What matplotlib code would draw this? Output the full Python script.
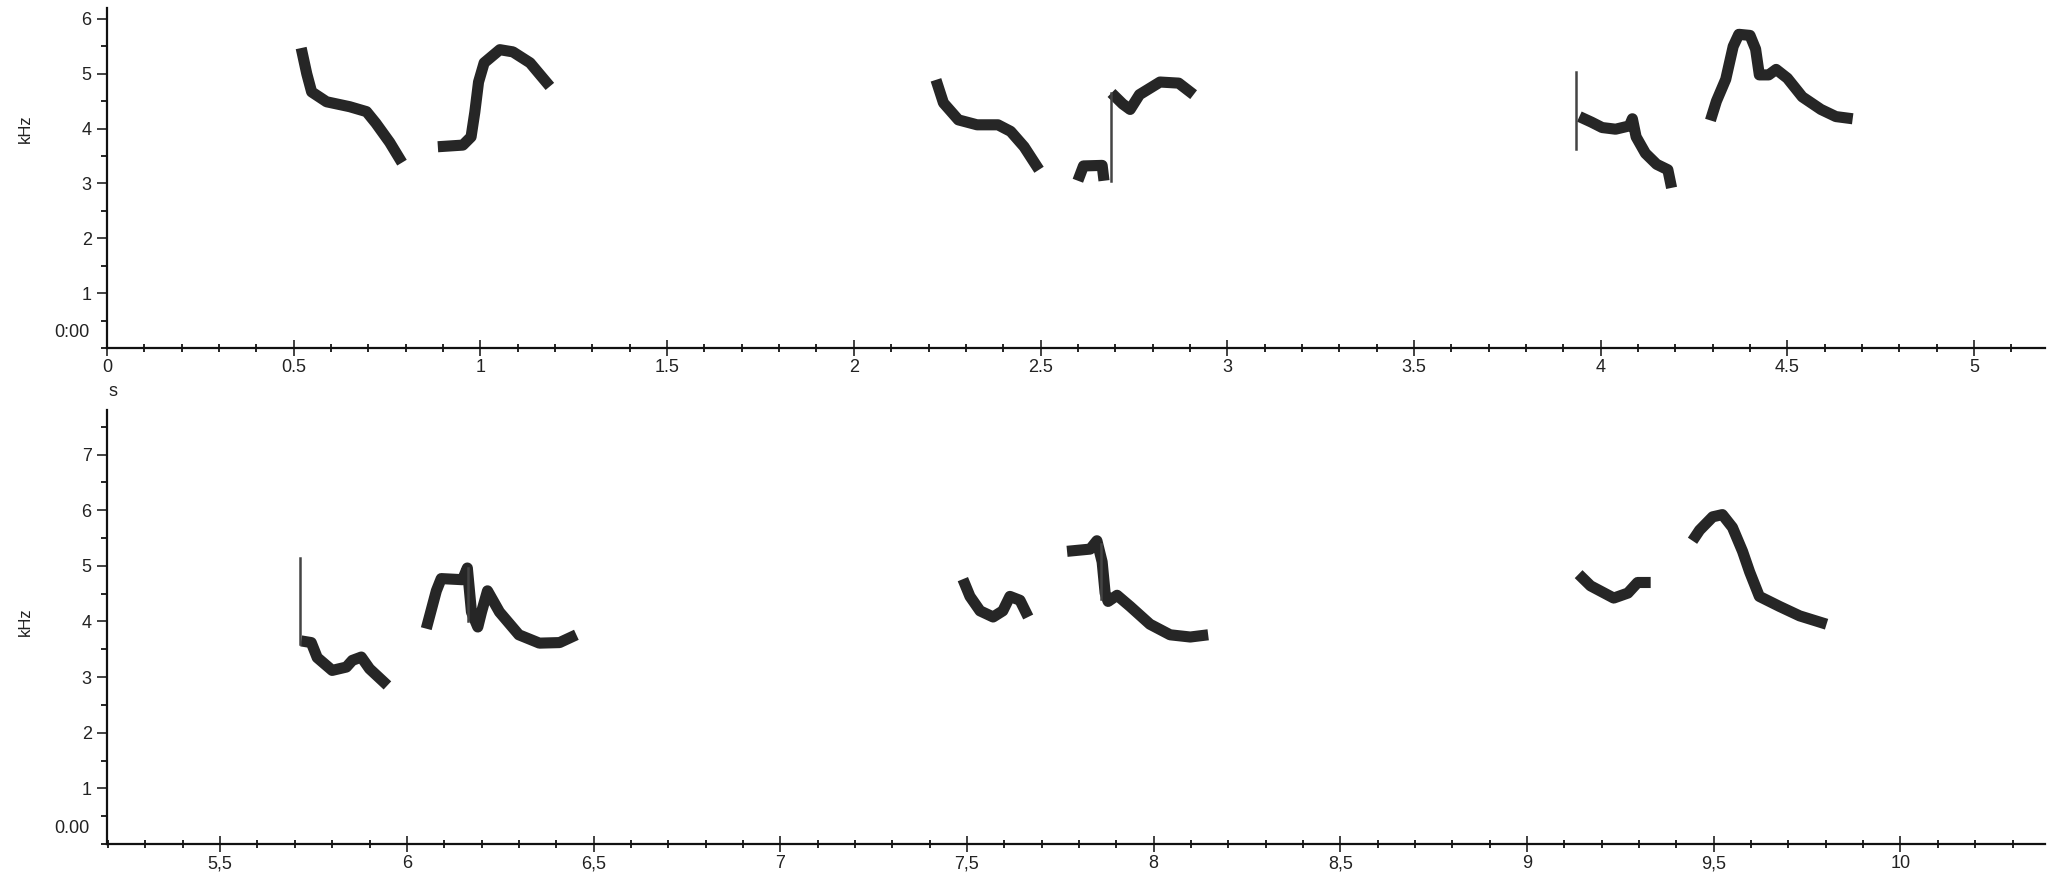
import matplotlib
matplotlib.use("Agg")
import matplotlib.pyplot as plt
from matplotlib.ticker import MultipleLocator, FixedLocator, FixedFormatter

plt.rcParams["font.family"] = ["Liberation Sans", "DejaVu Sans"]

# --- syllable contours (time s, frequency kHz) ---
# top panel
s1_t = [0.520, 0.535, 0.548, 0.588, 0.650, 0.695, 0.720, 0.757, 0.790]
s1_f = [5.47, 5.00, 4.67, 4.49, 4.40, 4.31, 4.10, 3.75, 3.38]
s2_t = [0.886, 0.953, 0.975, 0.985, 0.995, 1.010, 1.052, 1.087, 1.133, 1.186]
s2_f = [3.67, 3.70, 3.85, 4.30, 4.85, 5.20, 5.44, 5.40, 5.20, 4.77]
s3_t = [2.220, 2.240, 2.280, 2.330, 2.386, 2.420, 2.456, 2.496]
s3_f = [4.89, 4.47, 4.16, 4.07, 4.07, 3.95, 3.67, 3.25]
s4a_t = [2.600, 2.615, 2.665, 2.670]
s4a_f = [3.05, 3.32, 3.33, 3.05]
s4b_t = [2.690, 2.720, 2.740, 2.765, 2.820, 2.870, 2.910]
s4b_f = [4.65, 4.45, 4.35, 4.62, 4.85, 4.83, 4.62]
s5_t = [3.943, 3.975, 4.004, 4.040, 4.077, 4.085, 4.095, 4.120, 4.150, 4.180, 4.190]
s5_f = [4.22, 4.12, 4.02, 3.99, 4.05, 4.18, 3.85, 3.55, 3.35, 3.25, 2.92]
s6_t = [4.294, 4.310, 4.335, 4.355, 4.370, 4.400, 4.415, 4.425, 4.450, 4.470, 4.500,
        4.540, 4.590, 4.630, 4.675]
s6_f = [4.15, 4.50, 4.90, 5.50, 5.72, 5.70, 5.45, 4.98, 4.98, 5.08, 4.92,
        4.58, 4.35, 4.22, 4.18]
# bottom panel
s7_t = [5.717, 5.744, 5.760, 5.800, 5.838, 5.854, 5.878, 5.900, 5.948]
s7_f = [3.65, 3.62, 3.35, 3.12, 3.18, 3.30, 3.36, 3.15, 2.85]
s8_t = [6.052, 6.079, 6.092, 6.149, 6.162, 6.173, 6.190, 6.200, 6.216, 6.248,
        6.300, 6.355, 6.409, 6.454]
s8_f = [3.87, 4.55, 4.77, 4.75, 4.96, 4.17, 3.90, 4.17, 4.55, 4.17,
        3.76, 3.61, 3.62, 3.76]
s9_t = [7.489, 7.508, 7.535, 7.570, 7.596, 7.615, 7.642, 7.664]
s9_f = [4.76, 4.45, 4.19, 4.08, 4.19, 4.45, 4.38, 4.08]
s10_t = [7.768, 7.830, 7.848, 7.862, 7.870, 7.878, 7.902, 7.937, 7.990, 8.044,
         8.098, 8.146]
s10_f = [5.26, 5.30, 5.45, 5.07, 4.51, 4.36, 4.47, 4.27, 3.95, 3.76, 3.72, 3.76]
s11_t = [9.138, 9.170, 9.232, 9.270, 9.296, 9.331]
s11_f = [4.85, 4.64, 4.42, 4.51, 4.70, 4.70]
s12_t = [9.443, 9.462, 9.497, 9.523, 9.550, 9.577, 9.596, 9.622, 9.676, 9.730, 9.802]
s12_f = [5.45, 5.64, 5.88, 5.92, 5.69, 5.26, 4.89, 4.45, 4.27, 4.10, 3.95]

# thin vertical clicks (time, f_low, f_high)
stems_top = [(2.690, 3.05, 4.65), (3.935, 3.62, 5.04)]
stems_bottom = [(5.714, 3.60, 5.14), (6.165, 4.00, 4.96), (7.858, 4.40, 5.40)]

top_syllables = [(s1_t, s1_f), (s2_t, s2_f), (s3_t, s3_f), (s4a_t, s4a_f),
                 (s4b_t, s4b_f), (s5_t, s5_f), (s6_t, s6_f)]
bottom_syllables = [(s7_t, s7_f), (s8_t, s8_f), (s9_t, s9_f), (s10_t, s10_f),
                    (s11_t, s11_f), (s12_t, s12_f)]

top_xticks = [0, 0.5, 1, 1.5, 2, 2.5, 3, 3.5, 4, 4.5, 5]
top_xlabels = ["0", "0.5", "1", "1.5", "2", "2.5", "3", "3.5", "4", "4.5", "5"]
bot_xticks = [5.5, 6, 6.5, 7, 7.5, 8, 8.5, 9, 9.5, 10]
bot_xlabels = ["5,5", "6", "6,5", "7", "7,5", "8", "8,5", "9", "9,5", "10"]

W, H = 2052, 873
fig = plt.figure(figsize=(W / 100, H / 100), dpi=100)

ink = "#262626"


def setup(ax, xlim, ylim, xticks, xlabels, yticks, zero_label):
    ax.set_xlim(*xlim)
    ax.set_ylim(*ylim)
    for side in ("top", "right"):
        ax.spines[side].set_visible(False)
    for side in ("left", "bottom"):
        ax.spines[side].set_linewidth(1.6)
        ax.spines[side].set_color("#111111")
    ax.xaxis.set_major_locator(FixedLocator(xticks))
    ax.xaxis.set_major_formatter(FixedFormatter(xlabels))
    ax.xaxis.set_minor_locator(MultipleLocator(0.1))
    ax.yaxis.set_major_locator(FixedLocator(yticks))
    ax.yaxis.set_minor_locator(MultipleLocator(0.5))
    ax.tick_params(axis="x", which="major", direction="inout", length=12, width=1.2,
                   labelsize=13, pad=2, colors="#222222")
    ax.tick_params(axis="x", which="minor", direction="inout", length=6, width=1.2)
    ax.tick_params(axis="y", which="major", direction="out", length=7, width=1.2,
                   labelsize=13, pad=4, colors="#222222")
    ax.tick_params(axis="y", which="minor", direction="out", length=4, width=1.2)
    ax.text(-0.009, 0.28, zero_label, transform=ax.get_yaxis_transform(),
            ha="right", va="center", fontsize=13, color="#222222")
    ax.text(-0.042, 4.0, "kHz", transform=ax.get_yaxis_transform(), rotation=90,
            ha="center", va="center", fontsize=12, color="#222222")


ax1 = fig.add_axes([107 / W, 1 - 348 / H, (2045 - 107) / W, (348 - 8) / H])
setup(ax1, (0, 5.19), (0, 6.2), top_xticks, top_xlabels, [1, 2, 3, 4, 5, 6], "0:00")

ax2 = fig.add_axes([107 / W, 1 - 844 / H, (2045 - 107) / W, (844 - 410) / H])
setup(ax2, (5.197, 10.387), (0, 7.8), bot_xticks, bot_xlabels, [1, 2, 3, 4, 5, 6, 7], "0.00")

for ax, syls, stems in ((ax1, top_syllables, stems_top), (ax2, bottom_syllables, stems_bottom)):
    for t, f in syls:
        ax.plot(t, f, color=ink, lw=8, solid_capstyle="butt", solid_joinstyle="round")
    for t, lo, hi in stems:
        ax.plot([t, t], [lo, hi], color="#444444", lw=1.8)

fig.text(113 / W, 1 - 392 / H, "s", fontsize=13, color="#222222", ha="center", va="center")

fig.savefig("out.png", dpi=100, facecolor="white")
